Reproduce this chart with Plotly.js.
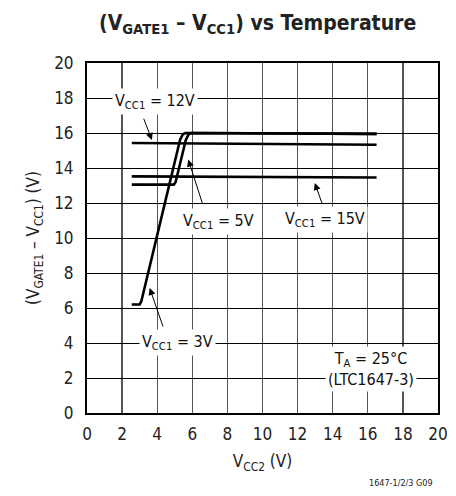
<!DOCTYPE html>
<html>
<head>
<meta charset="utf-8">
<script src="https://cdn.plot.ly/plotly-3.0.1.min.js"></script>
<style>
html,body{margin:0;padding:0;background:#fff;}
#chart{width:456px;height:496px;}
</style>
</head>
<body>
<div id="chart"></div>
<script>
// Data
const vcc2_3V = [2.55, 3.0, 3.1, 5.3, 5.45, 5.6, 16.5];
const gate_3V = [6.2, 6.2, 6.4, 15.6, 15.9, 16.0, 15.95];
const vcc2_5V = [2.55, 4.95, 5.05, 5.63, 5.78, 5.95, 16.5];
const gate_5V = [13.05, 13.05, 13.2, 15.6, 15.9, 16.0, 15.95];
const vcc2_12V = [2.55, 9.0, 16.5];
const gate_12V = [15.43, 15.38, 15.33];
const vcc2_15V = [2.55, 9.0, 16.5];
const gate_15V = [13.52, 13.49, 13.46];
const tickVals = [0, 2, 4, 6, 8, 10, 12, 14, 16, 18, 20];

const FONT = '"DejaVu Sans Condensed", "Liberation Sans Narrow", Arial, sans-serif';
const lineStyle = {color: '#000', width: 2.6, shape: 'linear'};

const traces = [
  {x: vcc2_3V, y: gate_3V, mode: 'lines', line: lineStyle, name: 'VCC1 = 3V'},
  {x: vcc2_5V, y: gate_5V, mode: 'lines', line: lineStyle, name: 'VCC1 = 5V'},
  {x: vcc2_12V, y: gate_12V, mode: 'lines', line: lineStyle, name: 'VCC1 = 12V'},
  {x: vcc2_15V, y: gate_15V, mode: 'lines', line: lineStyle, name: 'VCC1 = 15V'}
];

function label(text, x, y) {
  return {x: x, y: y, xref: 'x', yref: 'y', text: text, showarrow: false,
    font: {family: FONT, size: 16, color: '#111'}, bgcolor: '#fff', borderpad: 2,
    xanchor: 'center', yanchor: 'middle'};
}
function arrow(hx, hy, tx, ty) {
  return {x: hx, y: hy, ax: tx, ay: ty, xref: 'x', yref: 'y', axref: 'x', ayref: 'y',
    text: '', showarrow: true, arrowhead: 2, arrowsize: 1.4, arrowwidth: 1, arrowcolor: '#000'};
}

const annotations = [
  label('V<sub>CC1</sub> = 12V', 3.9, 17.8),
  label('V<sub>CC1</sub> = 5V', 7.47, 10.93),
  label('V<sub>CC1</sub> = 15V', 13.55, 11.05),
  label('V<sub>CC1</sub> = 3V', 5.14, 4.02),
  {x: 16.2, y: 2.5, xref: 'x', yref: 'y', showarrow: false,
   text: 'T<sub>A</sub> = 25°C<br>(LTC1647-3)', align: 'center',
   font: {family: FONT, size: 16, color: '#111'}, bgcolor: '#fff', borderpad: 2,
   xanchor: 'center', yanchor: 'middle'},
  arrow(3.7, 15.6, 3.2, 16.9),
  arrow(5.77, 14.48, 6.62, 11.85),
  arrow(12.98, 13.14, 13.44, 11.85),
  arrow(3.57, 7.14, 4.36, 4.86),
  {x: 1, y: 0, xref: 'paper', yref: 'paper', xanchor: 'right', yanchor: 'middle',
   xshift: -3, yshift: -70, showarrow: false, text: '1647-1/2/3 G09',
   font: {family: FONT, size: 9, color: '#222'}}
];

const layout = {
  width: 456, height: 496,
  margin: {l: 86.5, r: 17.5, t: 63, b: 83},
  paper_bgcolor: '#fff', plot_bgcolor: '#fff',
  showlegend: false,
  title: {text: '<b>(V<sub>GATE1</sub> – V<sub>CC1</sub>) vs Temperature</b>',
    x: 0.565, xanchor: 'center', y: 0.955, yanchor: 'middle',
    font: {family: FONT, size: 21, color: '#222'}},
  xaxis: {range: [0, 20], tickvals: tickVals, ticktext: tickVals.map(String),
    showgrid: true, gridcolor: '#555', gridwidth: 1.3, zeroline: false,
    showline: true, linecolor: '#000', linewidth: 2, mirror: true,
    ticks: '', ticklabelstandoff: 5,
    tickfont: {family: FONT, size: 17, color: '#222'},
    title: {text: 'V<sub>CC2</sub> (V)', standoff: 12,
      font: {family: FONT, size: 17, color: '#222'}}},
  yaxis: {range: [0, 20], tickvals: tickVals, ticktext: tickVals.map(String),
    showgrid: true, gridcolor: '#000', gridwidth: 1, zeroline: false,
    showline: true, linecolor: '#000', linewidth: 2, mirror: true,
    ticks: '', ticklabelstandoff: 8,
    tickfont: {family: FONT, size: 17, color: '#222'},
    title: {text: '(V<sub>GATE1</sub> – V<sub>CC1</sub>) (V)', standoff: 10,
      font: {family: FONT, size: 17, color: '#222'}}},
  annotations: annotations
};

Plotly.newPlot('chart', traces, layout, {displayModeBar: false, staticPlot: true});
</script>
</body>
</html>
